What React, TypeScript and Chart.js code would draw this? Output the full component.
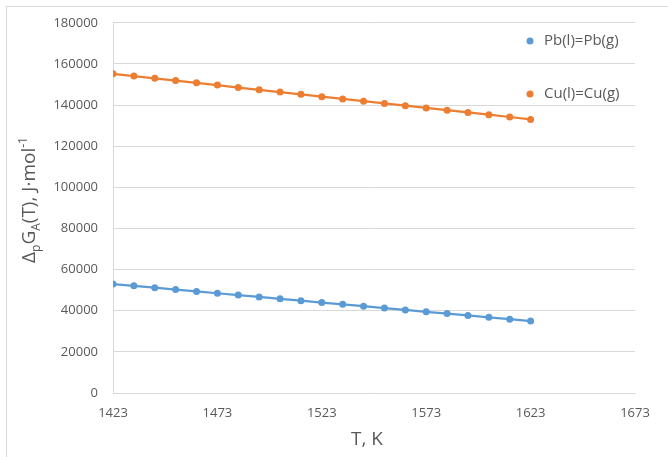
import React, { useEffect, useRef } from "react";
import { Chart, registerables } from "chart.js";
Chart.register(...registerables);

const temperatures = [1423, 1433, 1443, 1453, 1463, 1473, 1483, 1493, 1503, 1513, 1523, 1533, 1543, 1553, 1563, 1573, 1583, 1593, 1603, 1613, 1623];
const pbValues = [53000, 52100, 51200, 50300, 49400, 48500, 47600, 46700, 45800, 44900, 44000, 43100, 42200, 41300, 40400, 39500, 38600, 37700, 36800, 35900, 35000];
const cuValues = [155200, 154100, 153000, 151900, 150800, 149700, 148500, 147400, 146300, 145200, 144100, 143000, 141900, 140800, 139700, 138600, 137500, 136400, 135300, 134200, 133000];
const seriesNames = ["Pb(l)=Pb(g)", "Cu(l)=Cu(g)"];
const seriesColors = ["#5b9bd5", "#ed7d31"];
const xTitle = "T, K";

const FONT = "'Open Sans', 'Liberation Sans', sans-serif";

const titlesPlugin = {
  id: "titles",
  afterDraw(chart: any) {
    const ctx = chart.ctx;
    ctx.save();
    ctx.fillStyle = "#595959";
    ctx.font = `19px ${FONT}`;
    ctx.textAlign = "center";
    ctx.textBaseline = "middle";
    ctx.fillText(xTitle, 367, 440);

    const parts = [
      { t: "Δ", k: "n" },
      { t: "p", k: "sub" },
      { t: "G", k: "n" },
      { t: "A", k: "sub" },
      { t: "(T), J·mol", k: "n" },
      { t: "-1", k: "sup" },
    ];
    const big = `19px ${FONT}`;
    const small = `12px ${FONT}`;
    let total = 0;
    for (const p of parts) {
      ctx.font = p.k === "n" ? big : small;
      total += ctx.measureText(p.t).width;
    }
    ctx.translate(28, 200);
    ctx.rotate(-Math.PI / 2);
    ctx.textAlign = "left";
    ctx.textBaseline = "alphabetic";
    let x = -total / 2;
    for (const p of parts) {
      ctx.font = p.k === "n" ? big : small;
      const dy = p.k === "sub" ? 5 : p.k === "sup" ? -8 : 0;
      ctx.fillText(p.t, x, 7 + dy);
      x += ctx.measureText(p.t).width;
    }
    ctx.restore();

    ctx.save();
    ctx.font = `15px ${FONT}`;
    ctx.textBaseline = "middle";
    ctx.textAlign = "left";
    const ys = [41, 94];
    seriesNames.forEach((name, i) => {
      ctx.fillStyle = seriesColors[i];
      ctx.beginPath();
      ctx.arc(530, ys[i], 3.5, 0, Math.PI * 2);
      ctx.fill();
      ctx.fillStyle = "#595959";
      ctx.fillText(name, 544, ys[i]);
    });
    ctx.restore();
  },
};

export default function App() {
  const ref = useRef<HTMLCanvasElement>(null);
  useEffect(() => {
    const chart = new Chart(ref.current!, {
      type: "line",
      data: {
        datasets: [
          {
            label: seriesNames[0],
            data: temperatures.map((t, i) => ({ x: t, y: pbValues[i] })),
            borderColor: seriesColors[0],
            backgroundColor: seriesColors[0],
            borderWidth: 2.25,
            pointRadius: 3.5,
            pointBorderWidth: 0,
            tension: 0,
          },
          {
            label: seriesNames[1],
            data: temperatures.map((t, i) => ({ x: t, y: cuValues[i] })),
            borderColor: seriesColors[1],
            backgroundColor: seriesColors[1],
            borderWidth: 2.25,
            pointRadius: 3.5,
            pointBorderWidth: 0,
            tension: 0,
          },
        ],
      },
      options: {
        animation: false,
        responsive: false,
        layout: { padding: { left: 0, top: 20, right: 33, bottom: 0 } },
        plugins: { legend: { display: false }, tooltip: { enabled: false } },
        scales: {
          x: {
            type: "linear",
            min: 1423,
            max: 1673,
            afterFit: (s: any) => { s.height = 64; },
            ticks: { stepSize: 50, padding: 12, color: "#595959", font: { family: FONT, size: 13 }, callback: (v: any) => String(v) },
            grid: { display: false, drawTicks: false },
            border: { display: true, color: "#d9d9d9", width: 1 },
          },
          y: {
            min: 0,
            max: 180000,
            afterFit: (s: any) => { s.width = 113; },
            ticks: { stepSize: 20000, padding: 15, color: "#595959", font: { family: FONT, size: 13 }, callback: (v: any) => String(v) },
            grid: { color: "#d9d9d9", lineWidth: 1, drawTicks: false },
            border: { display: true, color: "#d9d9d9", width: 1 },
          },
        },
      },
      plugins: [titlesPlugin],
    } as any);
    return () => chart.destroy();
  }, []);
  return (
    <div style={{ position: "fixed", left: 0, top: 0, width: 668, height: 457, background: "#fff" }}>
      <div style={{ position: "absolute", left: 6, top: 6, width: 680, height: 470, borderLeft: "1px solid #d9d9d9", borderTop: "1px solid #d9d9d9" }} />
      <canvas ref={ref} width={668} height={457} style={{ position: "absolute", left: 0, top: 0 }} />
    </div>
  );
}
